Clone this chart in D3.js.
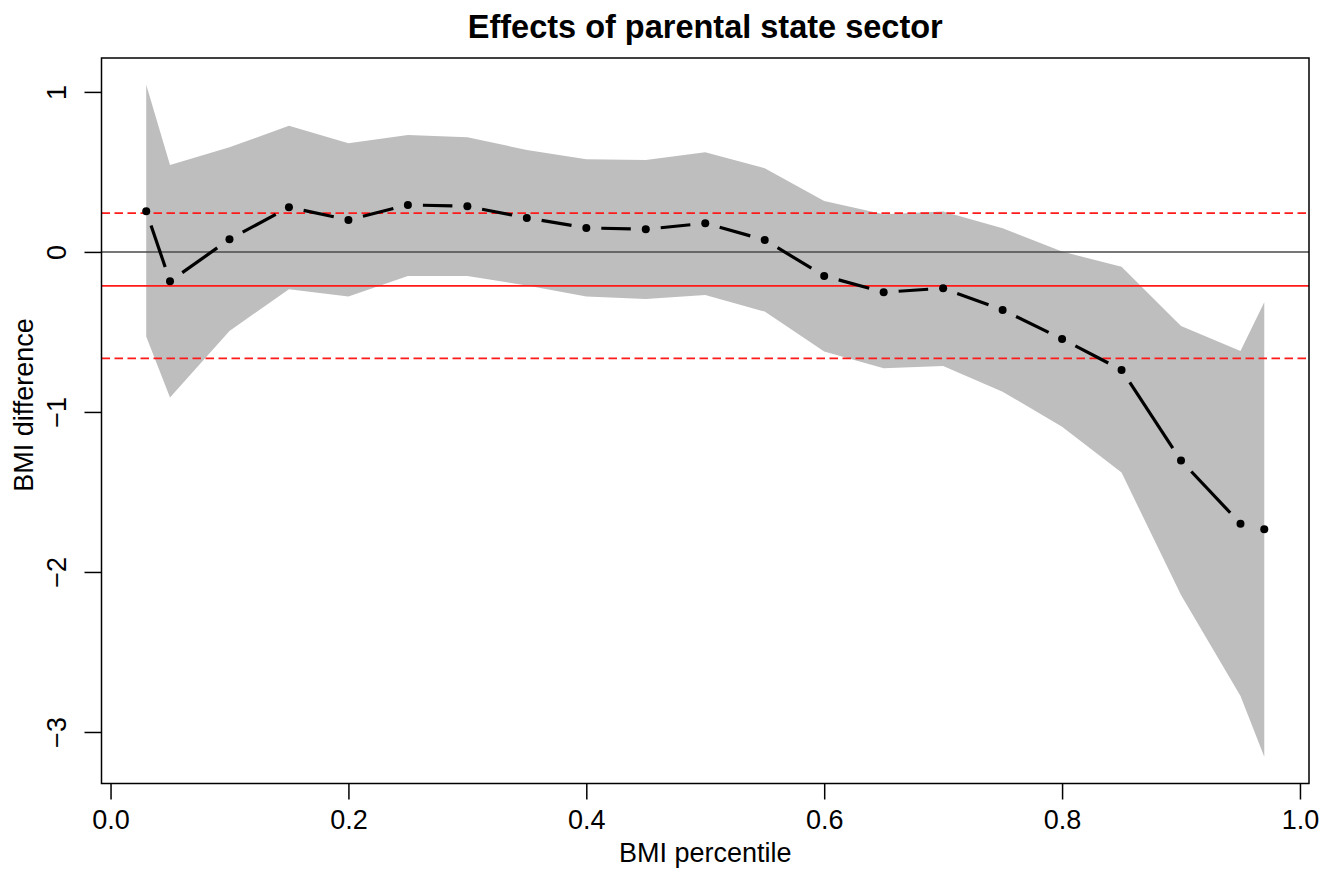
<!DOCTYPE html>
<html>
<head>
<meta charset="utf-8">
<script src="https://cdn.jsdelivr.net/npm/d3@7"></script>
<style>
  body { margin: 0; background: #fff; }
  text { font-family: "Liberation Sans", Arial, Helvetica, sans-serif; }
</style>
</head>
<body>
<div id="container"></div>
<script>
// percentiles of BMI distribution
var pct = [0.03, 0.05, 0.10, 0.15, 0.20, 0.25, 0.30, 0.35, 0.40, 0.45, 0.50,
           0.55, 0.60, 0.65, 0.70, 0.75, 0.80, 0.85, 0.90, 0.95, 0.97];
// quantile effect estimates
var est = [0.254, -0.183, 0.079, 0.279, 0.200, 0.294, 0.285, 0.2125, 0.150, 0.142, 0.179,
           0.075, -0.150, -0.252, -0.227, -0.3625, -0.544, -0.7375, -1.304, -1.698, -1.733];
// confidence band
var upper = [1.044, 0.544, 0.654, 0.788, 0.679, 0.731, 0.717, 0.6375, 0.579, 0.575, 0.623,
             0.523, 0.319, 0.235, 0.252, 0.148, 0.002, -0.092, -0.4625, -0.619, -0.315];
var lower = [-0.529, -0.910, -0.494, -0.233, -0.279, -0.150, -0.150, -0.210, -0.279, -0.294, -0.269,
             -0.373, -0.623, -0.727, -0.7125, -0.873, -1.092, -1.379, -2.144, -2.775, -3.154];
// OLS mean effect and its CI
var meanEffect = -0.2125;
var meanCI = [0.242, -0.665];

var xTicks = [0, 0.2, 0.4, 0.6, 0.8, 1.0];
var yTicks = [-3, -2, -1, 0, 1];

var width = 1336, height = 877;
var box = {left: 101.5, right: 1309, top: 58, bottom: 783.5};
var fs = 27;

// R style: pad the data range by 4%
function pad(ext) {
    var d = (ext[1] - ext[0]) * 0.04;
    return [ext[0] - d, ext[1] + d];
}

var svg = d3.select("#container").append("svg")
    .attr("width", width)
    .attr("height", height);

var x = d3.scaleLinear()
    .domain(pad(d3.extent(pct)))
    .range([box.left, box.right]);

var y = d3.scaleLinear()
    .domain(pad([d3.min(lower), d3.max(upper)]))
    .range([box.bottom, box.top]);

var rows = pct.map(function(p, i) {
    return {p: p, est: est[i], lo: lower[i], hi: upper[i]};
});

// grey band
var area = d3.area()
    .x(function(d) { return x(d.p); })
    .y0(function(d) { return y(d.lo); })
    .y1(function(d) { return y(d.hi); });

svg.append("path")
    .datum(rows)
    .attr("d", area)
    .attr("fill", "#bebebe");

// zero line
svg.append("line")
    .attr("x1", box.left).attr("x2", box.right)
    .attr("y1", y(0)).attr("y2", y(0))
    .attr("stroke", "#4a4a4a")
    .attr("stroke-width", 1.4);

// mean effect + CI
svg.append("line")
    .attr("x1", box.left).attr("x2", box.right)
    .attr("y1", y(meanEffect)).attr("y2", y(meanEffect))
    .attr("stroke", "#ff1a1a")
    .attr("stroke-width", 1.7);

svg.selectAll(".ci")
    .data(meanCI)
    .enter().append("line")
    .attr("class", "ci")
    .attr("x1", box.left).attr("x2", box.right)
    .attr("y1", function(d) { return y(d); })
    .attr("y2", function(d) { return y(d); })
    .attr("stroke", "#ff1a1a")
    .attr("stroke-width", 1.7)
    .attr("stroke-dasharray", "8.5,4.5");

// type="b": segments with a gap around each point
var gap = 15;
var segs = [];
for (var i = 0; i < rows.length - 1; i++) {
    var x0 = x(rows[i].p), y0 = y(rows[i].est);
    var x1 = x(rows[i + 1].p), y1 = y(rows[i + 1].est);
    var L = Math.sqrt((x1 - x0) * (x1 - x0) + (y1 - y0) * (y1 - y0));
    if (L <= 2 * gap) continue;
    var ux = (x1 - x0) / L, uy = (y1 - y0) / L;
    segs.push([x0 + ux * gap, y0 + uy * gap, x1 - ux * gap, y1 - uy * gap]);
}

svg.selectAll(".seg")
    .data(segs)
    .enter().append("line")
    .attr("class", "seg")
    .attr("x1", function(d) { return d[0]; })
    .attr("y1", function(d) { return d[1]; })
    .attr("x2", function(d) { return d[2]; })
    .attr("y2", function(d) { return d[3]; })
    .attr("stroke", "#000")
    .attr("stroke-width", 3.2);

svg.selectAll(".pt")
    .data(rows)
    .enter().append("circle")
    .attr("class", "pt")
    .attr("cx", function(d) { return x(d.p); })
    .attr("cy", function(d) { return y(d.est); })
    .attr("r", 4)
    .attr("fill", "#000");

// box
svg.append("rect")
    .attr("x", box.left).attr("y", box.top)
    .attr("width", box.right - box.left)
    .attr("height", box.bottom - box.top)
    .attr("fill", "none")
    .attr("stroke", "#000")
    .attr("stroke-width", 1.5);

// axes
var xAxis = d3.axisBottom(x)
    .tickValues(xTicks)
    .tickFormat(d3.format(".1f"))
    .tickSize(16)
    .tickPadding(10);

svg.append("g")
    .attr("transform", "translate(0," + box.bottom + ")")
    .call(xAxis)
    .call(function(g) { g.select(".domain").remove(); })
    .call(function(g) {
        g.selectAll("line").attr("stroke", "#000").attr("stroke-width", 1.5);
        g.selectAll("text").attr("font-size", fs).attr("fill", "#000")
            .attr("font-family", "'Liberation Sans', Arial, sans-serif");
    });

var yAxis = d3.axisLeft(y)
    .tickValues(yTicks)
    .tickFormat(d3.format("d"))
    .tickSize(17)
    .tickPadding(0);

var gy = svg.append("g")
    .attr("transform", "translate(" + box.left + ",0)")
    .call(yAxis);
gy.select(".domain").remove();
gy.selectAll("line").attr("stroke", "#000").attr("stroke-width", 1.5);
gy.selectAll("text")
    .attr("font-size", fs)
    .attr("fill", "#000")
    .attr("font-family", "'Liberation Sans', Arial, sans-serif")
    .attr("x", null).attr("dy", null)
    .attr("text-anchor", "middle")
    .attr("transform", "translate(-36,0) rotate(-90)");

// titles
svg.append("text")
    .attr("x", (box.left + box.right) / 2)
    .attr("y", 38)
    .attr("text-anchor", "middle")
    .attr("font-size", 32.5)
    .attr("font-weight", "bold")
    .text("Effects of parental state sector");

svg.append("text")
    .attr("x", (box.left + box.right) / 2)
    .attr("y", 862)
    .attr("text-anchor", "middle")
    .attr("font-size", fs)
    .text("BMI percentile");

svg.append("text")
    .attr("transform", "translate(33,405) rotate(-90)")
    .attr("text-anchor", "middle")
    .attr("font-size", fs)
    .text("BMI difference");
</script>
</body>
</html>
